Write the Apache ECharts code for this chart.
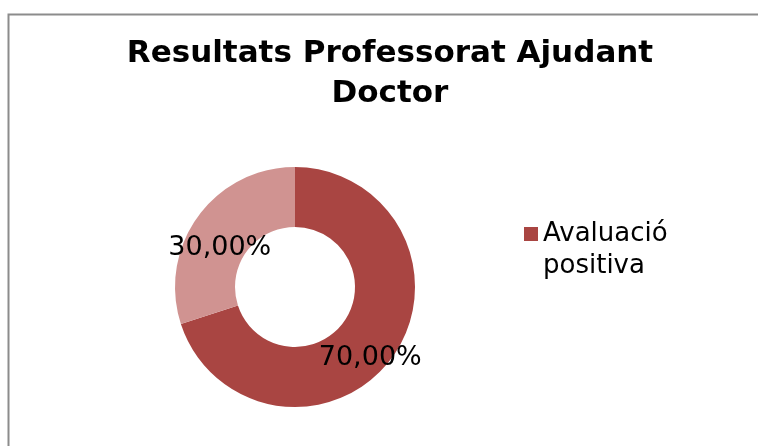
<!DOCTYPE html>
<html>
<head>
<meta charset="utf-8">
<script src="https://cdn.jsdelivr.net/npm/echarts@6/dist/echarts.min.js"></script>
<style>
  html, body { margin: 0; padding: 0; background: #fff; }
  #chart { width: 758px; height: 446px; }
</style>
</head>
<body>
<div id="chart"></div>
<script>
// dades
const sliceNames = ['Avaluació positiva', 'Avaluació negativa'];
const sliceValues = [70, 30];
const sliceColors = ['#A94542', '#D09391'];
const legendNames = ['Avaluació positiva'];

const chart = echarts.init(document.getElementById('chart'));

const option = {
  animation: false,
  backgroundColor: '#fff',
  title: {
    text: 'Resultats Professorat Ajudant\nDoctor',
    left: 390,
    top: 34,
    padding: 0,
    textAlign: 'center',
    textStyle: {
      fontFamily: 'DejaVu Sans',
      fontWeight: 'bold',
      fontSize: 31,
      lineHeight: 40,
      color: '#000'
    }
  },
  legend: {
    data: legendNames,
    left: 524,
    top: 218,
    padding: 0,
    itemWidth: 14,
    itemHeight: 46,
    // quadrat a dalt, perquè quedi alineat amb la primera línia
    icon: 'path://M0,0L14,0L14,14L0,14Z M0,46L0.01,46Z',
    itemStyle: { borderWidth: 0 },
    selectedMode: false,
    formatter: function (name) {
      return name.replace(' ', '\n');
    },
    textStyle: {
      fontFamily: 'DejaVu Sans',
      fontSize: 26,
      lineHeight: 32,
      color: '#000'
    }
  },
  graphic: [{
    type: 'rect',
    silent: true,
    shape: { x: 8.5, y: 14.5, width: 800, height: 500 },
    style: { fill: 'none', stroke: '#8c8c8c', lineWidth: 2 }
  }],
  series: [{
    type: 'pie',
    center: [295, 287],
    radius: [60, 120],
    startAngle: 90,
    clockwise: true,
    silent: true,
    itemStyle: { borderWidth: 0 },
    emphasis: { disabled: true },
    label: {
      show: true,
      position: 'inside',
      fontFamily: 'DejaVu Sans',
      fontSize: 27,
      color: '#000',
      formatter: function (p) {
        // línia buida a dalt: baixa l'etiqueta uns 16 px
        return '{s| }\n{t|' + p.percent.toFixed(2).replace('.', ',') + '%}';
      },
      rich: {
        s: { fontSize: 1, lineHeight: 32 },
        t: { fontFamily: 'DejaVu Sans', fontSize: 27, lineHeight: 32, color: '#000' }
      }
    },
    labelLine: { show: false },
    data: sliceNames.map(function (n, i) {
      return { name: n, value: sliceValues[i], itemStyle: { color: sliceColors[i] } };
    })
  }]
};

chart.setOption(option);
</script>
</body>
</html>
